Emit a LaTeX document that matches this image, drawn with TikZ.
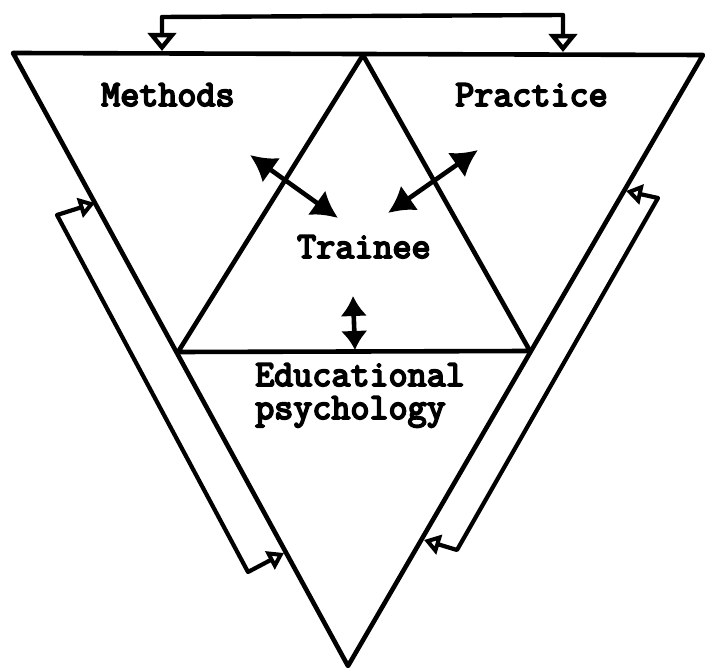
\documentclass[tikz,border=0pt]{standalone}
\usepackage{fontspec}
\newfontfamily\twfont[FakeBold=5]{Latin Modern Mono}
\usetikzlibrary{arrows.meta}
\begin{document}
\begin{tikzpicture}[x=1pt,y=-1pt,line cap=round,line join=round,
  lbl/.style={font=\twfont\fontsize{37}{33}\selectfont,inner sep=0pt,anchor=base west},
  triline/.style={line width=4.6pt},
  topbracket/.style={line width=4.4pt,{Triangle[open,width=28pt,length=18pt]}-{Triangle[open,width=28pt,length=18pt]}},
  sidebracket/.style={line width=4.2pt,{Triangle[open,width=20pt,length=16pt]}-{Triangle[open,width=20pt,length=16pt]}},
  dblarrow/.style={line width=4.6pt,{Latex[width=30pt,length=26pt]}-{Latex[width=30pt,length=26pt]}},
  shortdbl/.style={line width=4.6pt,{Latex[width=27pt,length=20pt]}-{Latex[width=27pt,length=19pt]}}]
\useasboundingbox (0,0) rectangle (705,668);
% big triangle
\coordinate (TL) at (13,53);
\coordinate (TR) at (703,55);
\coordinate (B) at (348,666);
% inner triangle
\coordinate (A) at (363,55);
\coordinate (BL) at (178,352);
\coordinate (BR) at (530,351);
\draw[triline] (TL) -- (TR) -- (B) -- cycle;
\draw[triline] (BL) -- (A) -- (BR) -- cycle;
% top bracket
\coordinate (ta1) at (162,51);
\coordinate (tb1) at (162,17);
\coordinate (tb2) at (563,15);
\coordinate (ta2) at (563,52);
\draw[topbracket] (ta1) -- (tb1) -- (tb2) -- (ta2);
% left bracket
\coordinate (le1) at (95,203);
\coordinate (lo1) at (57,215);
\coordinate (lo2) at (248,572);
\coordinate (le2) at (284,553);
\draw[sidebracket] (le1) -- (lo1) -- (lo2) -- (le2);
% right bracket
\coordinate (re1) at (626,191);
\coordinate (ro1) at (658,198);
\coordinate (ro2) at (457,550);
\coordinate (re2) at (424,540);
\draw[sidebracket] (re1) -- (ro1) -- (ro2) -- (re2);
% labels
\node[lbl] (methods) at (101,106) {Methods};
\node[lbl] (practice) at (455,106) {Practice};
\node[lbl] (trainee) at (297,258) {Trainee};
\node[lbl,align=left] (educ) at (255,419) {Educational\\psychology};
% interaction arrows
\coordinate (m1) at (250,155);
\coordinate (m2) at (338,218);
\coordinate (p1) at (478,150);
\coordinate (p2) at (388,213);
\coordinate (e1) at (353,296);
\coordinate (e2) at (355,350);
\draw[dblarrow] (m1) -- (m2);
\draw[dblarrow] (p1) -- (p2);
\draw[shortdbl] (e1) -- (e2);
\end{tikzpicture}
\end{document}
